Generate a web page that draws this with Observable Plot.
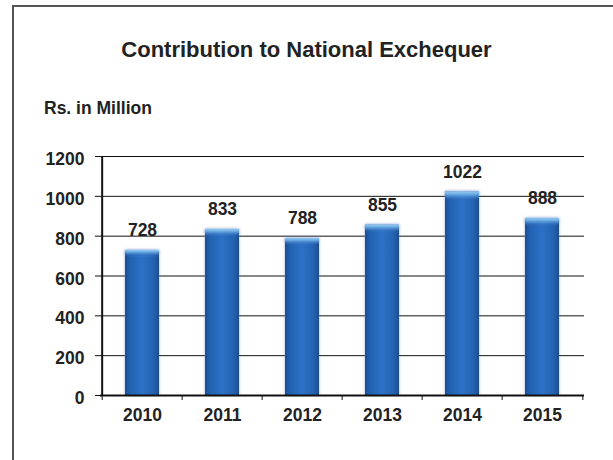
<!DOCTYPE html>
<html>
<head>
<meta charset="utf-8">
<script src="https://cdn.jsdelivr.net/npm/d3@7"></script>
<script src="https://cdn.jsdelivr.net/npm/@observablehq/plot@0.6"></script>
<style>
  html, body { margin: 0; padding: 0; background: #fff; }
  #wrap { position: relative; width: 613px; height: 460px; overflow: hidden; font-family: "Liberation Sans", Arial, sans-serif; color: #222; }
  #frame { position: absolute; left: 12px; top: 5px; width: 700px; height: 600px; border-left: 2px solid #555; border-top: 2px solid #555; }
  #title { position: absolute; left: 0; top: 39px; width: 613px; text-align: center; font-weight: bold; font-size: 22px; line-height: 22px; }
  #subtitle { position: absolute; left: 44px; top: 99px; font-weight: bold; font-size: 17.5px; line-height: 18px; }
  #chart { position: absolute; left: 0; top: 0; }
  #chart g[aria-label="bar"] { filter: drop-shadow(0 0 1.5px rgba(110,150,210,0.7)); }
</style>
</head>
<body>
<svg width="0" height="0" style="position:absolute">
  <defs>
    <linearGradient id="barGrad" x1="0" y1="0" x2="1" y2="0">
      <stop offset="0" stop-color="#1c4c8f"/>
      <stop offset="0.15" stop-color="#2262b1"/>
      <stop offset="0.5" stop-color="#2c71c6"/>
      <stop offset="0.85" stop-color="#2262b1"/>
      <stop offset="1" stop-color="#1c4c8f"/>
    </linearGradient>
    <linearGradient id="topGrad" x1="0" y1="0" x2="0" y2="1">
      <stop offset="0" stop-color="#9fd3f5" stop-opacity="0.95"/>
      <stop offset="0.015" stop-color="#6fb4ea" stop-opacity="0.75"/>
      <stop offset="0.04" stop-color="#2b6fc3" stop-opacity="0"/>
      <stop offset="1" stop-color="#2b6fc3" stop-opacity="0"/>
    </linearGradient>
  </defs>
</svg>
<div id="wrap">
  <div id="frame"></div>
  <div id="title">Contribution to National Exchequer</div>
  <div id="subtitle">Rs. in Million</div>
  <div id="chart"></div>
</div>
<script>
const years = ["2010", "2011", "2012", "2013", "2014", "2015"];
const values = [728, 833, 788, 855, 1022, 888];
const yTicks = [0, 200, 400, 600, 800, 1000, 1200];

const data = years.map((year, i) => ({year, value: values[i]}));

const W = 613, H = 460;
const mL = 100, mR = 29, mT = 156, mB = 65;
const step = (W - mL - mR) / years.length;

const chart = Plot.plot({
  width: W,
  height: H,
  marginLeft: mL,
  marginRight: mR,
  marginTop: mT,
  marginBottom: mB,
  style: {background: "transparent", fontFamily: "'Liberation Sans', Arial, sans-serif", fontWeight: "bold", fontSize: "17px", color: "#222"},
  x: {type: "band", domain: years, padding: 0, label: null},
  y: {domain: [0, 1200], label: null},
  marks: [
    Plot.ruleY(yTicks.filter(v => v > 0), {stroke: "#111", strokeWidth: 1}),
    Plot.barY(data, {x: "year", y: "value", fill: "url(#barGrad)", insetLeft: 23, insetRight: 23}),
    Plot.barY(data, {x: "year", y: "value", fill: "url(#topGrad)", insetLeft: 23, insetRight: 23}),
    Plot.ruleY([0], {stroke: "#111", strokeWidth: 2}),
    Plot.ruleX([years[0]], {x: d => d, y1: 0, y2: 1200, dx: -step / 2, stroke: "#111", strokeWidth: 2}),
    Plot.axisY({ticks: yTicks, tickSize: 5, tickFormat: () => "", stroke: "#111", label: null}),
    Plot.axisY({ticks: yTicks, tickSize: 0, tickPadding: 16, dy: 3, fontSize: 17.5, fill: "#222", tickFormat: d => String(d), label: null}),
    Plot.axisX({tickSize: 0, tickPadding: 13, fontSize: 17.5, fill: "#222", label: null}),
    Plot.axisX({tickSize: 5, tickFormat: () => "", dx: -step / 2, stroke: "#111", label: null}),
    Plot.axisX({ticks: [years[years.length - 1]], tickSize: 5, tickFormat: () => "", dx: step / 2, stroke: "#111", label: null}),
    Plot.text(data, {x: "year", y: "value", text: d => String(d.value), dy: -20, fontSize: 17.5, fontWeight: "bold", fill: "#222"})
  ]
});
document.getElementById("chart").appendChild(chart);
</script>
</body>
</html>
